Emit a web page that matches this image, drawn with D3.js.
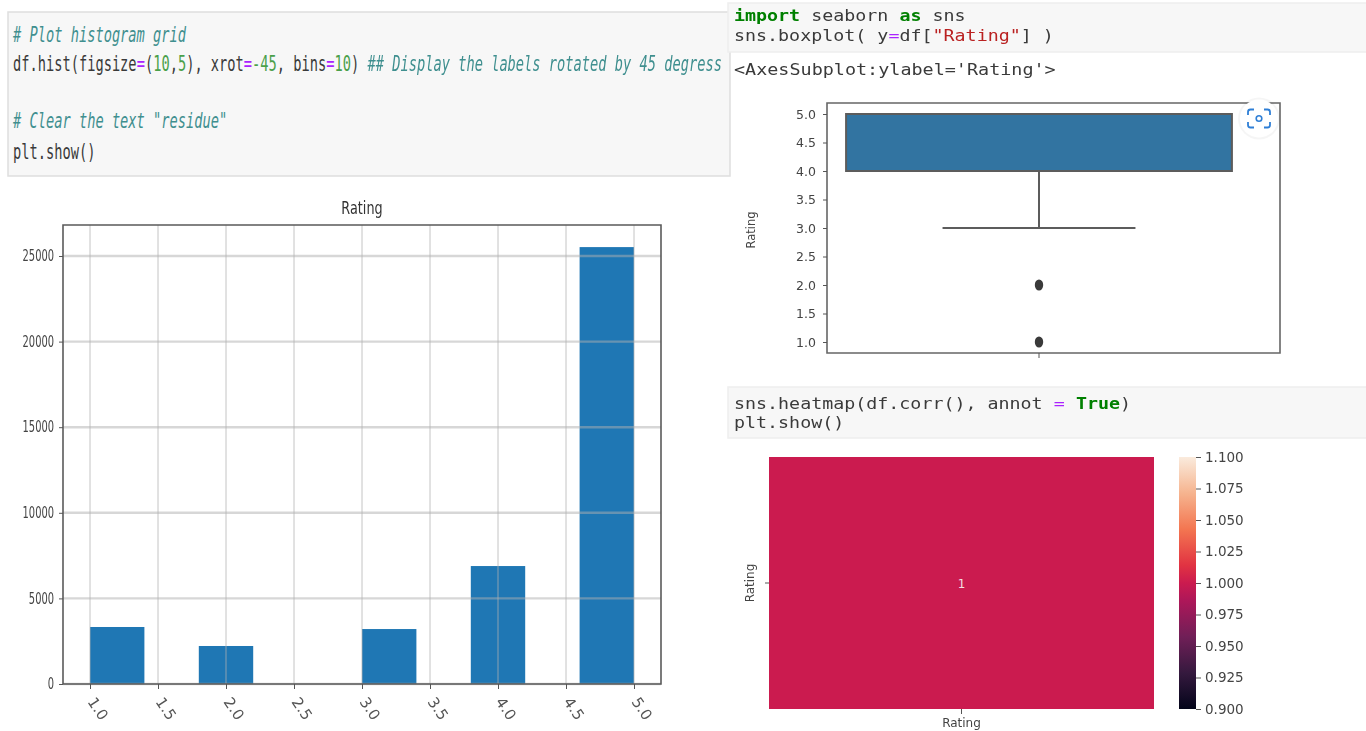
<!DOCTYPE html>
<html><head><meta charset="utf-8">
<script src="https://cdn.jsdelivr.net/npm/d3@7"></script>
<style>
html,body{margin:0;padding:0;background:#fff;overflow:hidden}
svg{display:block;filter:blur(0.6px)}
</style></head><body>
<svg id="c" width="1366" height="731"></svg>
<script>
// ---- data ----
const histTitle = "Rating";
const binStarts = [1.0, 1.8, 3.0, 3.8, 4.6];
const binCounts = [3330, 2220, 3210, 6890, 25520];
const binWidth = 0.4;
const histXTicks = [1.0,1.5,2.0,2.5,3.0,3.5,4.0,4.5,5.0];
const histYTicks = [0,5000,10000,15000,20000,25000];
const boxStats = {q1:4, q3:5, median:5, whiskerLow:3, whiskerHigh:5};
const boxFliers = [2, 1];
const boxYTicks = [1.0,1.5,2.0,2.5,3.0,3.5,4.0,4.5,5.0];
const heatLabels = ["Rating"];
const heatValues = [1];
const cbarTicks = [0.9,0.925,0.95,0.975,1.0,1.025,1.05,1.075,1.1];
const rocketStops = ["#03051a","#35193e","#701f57","#ad1759","#cb1b4f","#e13342","#f37651","#f6b48f","#faebdd"];
const rocketPos = [0,0.143,0.286,0.429,0.5,0.571,0.714,0.857,1];

const C = {tx:"#3a3a3a", cm:"#3f8f8f", op:"#aa22ff", num:"#4aa04a", kw:"#008000", str:"#ba2121"};
const code1 = [
 {y:42, runs:[["# Plot histogram grid",C.cm,1]]},
 {y:71, runs:[["df.hist(figsize",C.tx],["=",C.op],["(",C.tx],["10",C.num],[",",C.tx],["5",C.num],["), xrot",C.tx],["=",C.op],["-45",C.num],[", bins",C.tx],["=",C.op],["10",C.num],[") ",C.tx],["## Display the labels rotated by 45 degress",C.cm,1]]},
 {y:128, runs:[["# Clear the text \"residue\"",C.cm,1]]},
 {y:159, runs:[["plt.show()",C.tx]]}
];
const code2 = [
 {y:21, runs:[["import",C.kw,0,1],[" seaborn ",C.tx],["as",C.kw,0,1],[" sns",C.tx]]},
 {y:41, runs:[["sns.boxplot( y",C.tx],["=",C.op],["df[",C.tx],["\"Rating\"",C.str],["] )",C.tx]]}
];
const code3 = [
 {y:75, runs:[["<AxesSubplot:ylabel='Rating'>",C.tx]]}
];
const code4 = [
 {y:409, runs:[["sns.heatmap(df.corr(), annot ",C.tx],["=",C.op],[" ",C.tx],["True",C.kw,0,1],[")",C.tx]]},
 {y:428, runs:[["plt.show()",C.tx]]}
];

const svg = d3.select("#c");
const SANS = "'DejaVu Sans',sans-serif", MONO = "'DejaVu Sans Mono',monospace";

function cell(x,y,w,h,stroke){
  svg.append("rect").attr("x",x).attr("y",y).attr("width",w).attr("height",h)
    .attr("fill","#f7f7f7").attr("stroke",stroke).attr("stroke-width",1.5);
}
// mono glyphs have a fixed advance of 0.602em; vertical stretch k gives the reference's condensed look
function codeBlock(lines,x0,cw,fsTarget){
  const fs = cw/0.602, k = fsTarget/fs;
  lines.forEach(l=>{
    let i=0;
    l.runs.forEach(([s,col,it,bold])=>{
      const lead=s.length-s.trimStart().length, t=s.trim();
      if(t.length){
        svg.append("text").attr("transform",`translate(${x0+(i+lead)*cw},${l.y}) scale(1,${k})`)
          .attr("font-family",MONO).attr("font-size",fs).attr("fill",col)
          .attr("font-style",it?"italic":"normal").attr("font-weight",bold?"bold":"normal")
          .text(t);
      }
      i+=s.length;
    });
  });
}
cell(8,12,722,164,"#dedede");
cell(728,3,642,49,"#eeeeee");
cell(728,387,642,51,"#eeeeee");
codeBlock(code1,13,8.245,22);
codeBlock(code2,734,11.03,16.5);
codeBlock(code3,734,11.1,16.5);
codeBlock(code4,734,11.03,16.5);

// ---- histogram ----
const hX = d3.scaleLinear().domain([1,5]).range([90,634]);
const hY = d3.scaleLinear().domain([0,25000]).range([684,256]);
const hL=63,hR=661,hT=225,hB=684;
const hg = svg.append("g");
hg.append("rect").attr("x",hL).attr("y",hT).attr("width",hR-hL).attr("height",hB-hT).attr("fill","#fff");
hg.selectAll(".bar").data(binStarts).join("rect").attr("class","bar")
  .attr("x",d=>hX(d)).attr("width",d=>hX(d+binWidth)-hX(d))
  .attr("y",(d,i)=>hY(binCounts[i])).attr("height",(d,i)=>hB-hY(binCounts[i]))
  .attr("fill","#1f77b4");
hg.selectAll(".gx").data(histXTicks).join("line").attr("class","gx")
  .attr("x1",d=>hX(d)).attr("x2",d=>hX(d)).attr("y1",hT).attr("y2",hB)
  .attr("stroke","#b0b0b0").attr("stroke-opacity",0.75).attr("stroke-width",1);
hg.selectAll(".gy").data(histYTicks).join("line").attr("class","gy")
  .attr("x1",hL).attr("x2",hR).attr("y1",d=>hY(d)).attr("y2",d=>hY(d))
  .attr("stroke","#b0b0b0").attr("stroke-opacity",0.5).attr("stroke-width",2.4);
hg.append("path").attr("d",`M${hL},${hB}V${hT}H${hR}V${hB}Z`).attr("fill","none").attr("stroke","#5a5a5a").attr("stroke-width",1.6);
const hAxY = hg.append("g").attr("transform",`translate(${hL},0)`)
  .call(d3.axisLeft(hY).tickValues(histYTicks).tickSize(4).tickPadding(5).tickFormat(d3.format("d")));
hAxY.select(".domain").remove();
hAxY.selectAll("line").attr("stroke","#555");
hAxY.selectAll("text").attr("font-family",SANS).attr("font-size",9.9).attr("fill","#444")
  .attr("x",0).attr("dy",null).attr("dominant-baseline","middle")
  .attr("transform","translate(-9,0) scale(1,1.6)");
const hAxX = hg.append("g").attr("transform",`translate(0,${hB})`)
  .call(d3.axisBottom(hX).tickValues(histXTicks).tickSize(5).tickFormat(d3.format(".1f")));
hAxX.select(".domain").remove();
hAxX.selectAll("line").attr("stroke","#555");
hAxX.selectAll("text").attr("font-family",SANS).attr("font-size",15).attr("fill","#555")
  .attr("text-anchor","middle").attr("dy",0).attr("dominant-baseline","middle")
  .attr("y",0).attr("transform","translate(7,25) rotate(56)");
hg.append("text").attr("transform","translate(362,214) scale(1,1.4)").attr("text-anchor","middle")
  .attr("font-family",SANS).attr("font-size",12.8).attr("fill","#333").text(histTitle);

// ---- boxplot ----
const bY = d3.scaleLinear().domain([1,5]).range([342,114]);
const bX = d3.scaleBand().domain(heatLabels).range([827,1251]);
const bL=827,bR=1280,bT=103,bB=353;
const bCx = bX(heatLabels[0])+bX.bandwidth()/2;
const bHalf = bX.bandwidth()*0.455, capHalf = bHalf/2;
const bg = svg.append("g");
const LC="#5c5c5c";
bg.append("rect").attr("x",bCx-bHalf).attr("width",2*bHalf).attr("y",bY(boxStats.q3)).attr("height",bY(boxStats.q1)-bY(boxStats.q3))
  .attr("fill","#3274a1").attr("stroke",LC).attr("stroke-width",2);
bg.append("line").attr("x1",bCx).attr("x2",bCx).attr("y1",bY(boxStats.q1)).attr("y2",bY(boxStats.whiskerLow)).attr("stroke",LC).attr("stroke-width",2);
bg.append("line").attr("x1",bCx-capHalf).attr("x2",bCx+capHalf).attr("y1",bY(boxStats.whiskerLow)).attr("y2",bY(boxStats.whiskerLow)).attr("stroke",LC).attr("stroke-width",2);
bg.selectAll(".flier").data(boxFliers).join("ellipse").attr("class","flier")
  .attr("cx",bCx).attr("cy",d=>bY(d)).attr("rx",4.2).attr("ry",5.5).attr("fill","#3a3a3a");
bg.append("path").attr("d",`M${bL},${bB}V${bT}H${bR}V${bB}Z`).attr("fill","none").attr("stroke","#666").attr("stroke-width",1.6);
const bAxY = bg.append("g").attr("transform",`translate(${bL},0)`)
  .call(d3.axisLeft(bY).tickValues(boxYTicks).tickSize(4).tickPadding(7).tickFormat(d3.format(".1f")));
bAxY.select(".domain").remove();
bAxY.selectAll("line").attr("stroke","#555");
bAxY.selectAll("text").attr("font-family",SANS).attr("font-size",12.5).attr("fill","#444");
const bAxX = bg.append("g").attr("transform",`translate(0,${bB})`)
  .call(d3.axisBottom(bX).tickSize(5).tickFormat(""));
bAxX.select(".domain").remove();
bAxX.selectAll("line").attr("stroke","#555");
bg.append("text").attr("transform","translate(755,230) rotate(-90)").attr("text-anchor","middle")
  .attr("font-family",SANS).attr("font-size",11.5).attr("fill","#444").text("Rating");
// screenshot-overlay button
const cam = svg.append("g").attr("transform","translate(1259,118.5)");
cam.append("circle").attr("r",21).attr("fill","#000").attr("opacity",0.04);
cam.append("circle").attr("r",19).attr("fill","#fff");
cam.append("path").attr("d","M-5,-9H-8.5Q-11,-9 -11,-6.5V-3.5M5,-9H8.5Q11,-9 11,-6.5V-3.5M11,3.5V6.5Q11,9 8.5,9H5M-5,9H-8.5Q-11,9 -11,6.5V3.5")
  .attr("fill","none").attr("stroke","#2f7fd6").attr("stroke-width",1.8);
cam.append("circle").attr("r",2.8).attr("fill","none").attr("stroke","#2f7fd6").attr("stroke-width",1.6);

// ---- heatmap ----
const cVal = d3.scaleLinear().domain(rocketPos.map(p=>0.9+0.2*p)).range(rocketStops);
const mX = d3.scaleBand().domain(heatLabels).range([769,1154]);
const mY = d3.scaleBand().domain(heatLabels).range([457,709]);
const mg = svg.append("g");
mg.selectAll(".cell").data(heatValues).join("rect").attr("class","cell")
  .attr("x",(d,i)=>mX(heatLabels[i])).attr("y",(d,i)=>mY(heatLabels[i]))
  .attr("width",mX.bandwidth()).attr("height",mY.bandwidth()).attr("fill",d=>cVal(d));
mg.selectAll(".annot").data(heatValues).join("text").attr("class","annot")
  .attr("x",(d,i)=>mX(heatLabels[i])+mX.bandwidth()/2).attr("y",(d,i)=>mY(heatLabels[i])+mY.bandwidth()/2+1)
  .attr("text-anchor","middle").attr("dominant-baseline","middle")
  .attr("font-family",SANS).attr("font-size",12).attr("fill","#f2dfe0").text(d=>d);
const mAxX = mg.append("g").attr("transform","translate(0,709)")
  .call(d3.axisBottom(mX).tickSize(5).tickPadding(4));
mAxX.select(".domain").remove();
mAxX.selectAll("line").attr("stroke","#555");
mAxX.selectAll("text").attr("font-family",SANS).attr("font-size",12).attr("fill","#444");
const mAxY = mg.append("g").attr("transform","translate(769,0)")
  .call(d3.axisLeft(mY).tickSize(4).tickFormat(""));
mAxY.select(".domain").remove();
mAxY.selectAll("line").attr("stroke","#555");
mg.append("text").attr("transform","translate(754,583) rotate(-90)").attr("text-anchor","middle")
  .attr("font-family",SANS).attr("font-size",12).attr("fill","#444").text(heatLabels[0]);
// colorbar
const cbY = d3.scaleLinear().domain([0.9,1.1]).range([709,457]);
const grad = svg.append("defs").append("linearGradient").attr("id","rocket").attr("x1",0).attr("x2",0).attr("y1",1).attr("y2",0);
grad.selectAll("stop").data(rocketStops).join("stop").attr("offset",(d,i)=>rocketPos[i]).attr("stop-color",d=>d);
mg.append("rect").attr("x",1179).attr("width",17).attr("y",cbY(1.1)).attr("height",cbY(0.9)-cbY(1.1)).attr("fill","url(#rocket)");
const cbAx = mg.append("g").attr("transform","translate(1196,0)")
  .call(d3.axisRight(cbY).tickValues(cbarTicks).tickSize(5).tickPadding(4).tickFormat(d3.format(".3f")));
cbAx.select(".domain").remove();
cbAx.selectAll("line").attr("stroke","#555");
cbAx.selectAll("text").attr("font-family",SANS).attr("font-size",13.5).attr("fill","#444");
</script>
</body></html>
